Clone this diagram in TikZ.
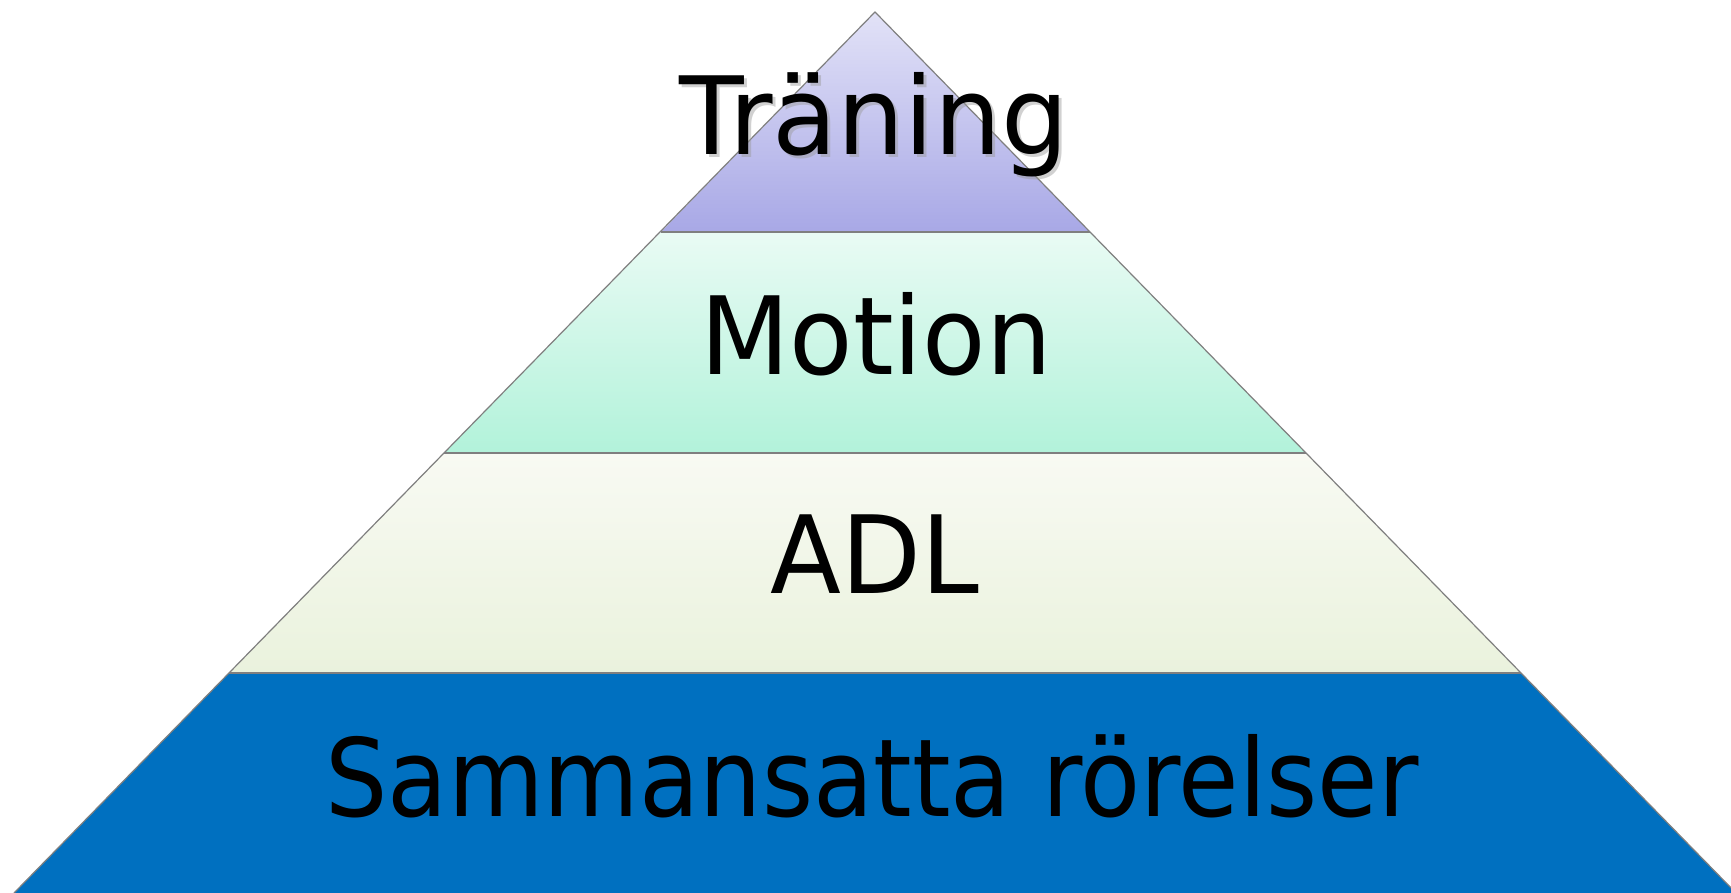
\documentclass[tikz,border=0pt]{standalone}
\usepackage{fontspec}
\newfontfamily\lgfont[FakeStretch=0.91]{DejaVu Sans}
\newfontfamily\lgwide[FakeStretch=0.96]{DejaVu Sans}
\newfontfamily\lgwider[FakeStretch=0.98]{DejaVu Sans}
\definecolor{topA}{HTML}{E2E2F7}
\definecolor{topB}{HTML}{A8A8E6}
\definecolor{motA}{HTML}{E9FBF4}
\definecolor{motB}{HTML}{B2F2DA}
\definecolor{adlA}{HTML}{F8FAF3}
\definecolor{adlB}{HTML}{EAF2DD}
\definecolor{baseC}{HTML}{0070C0}
\definecolor{edgeC}{HTML}{7F7F7F}
\begin{document}
\begin{tikzpicture}[x=1pt,y=1pt,
  label/.style={font=\lgfont\fontsize{108}{120}\selectfont, text=black, anchor=base, inner sep=0pt},
  edge/.style={draw=edgeC, line width=1.2pt, line join=round}]
\useasboundingbox (0,0) rectangle (1731,893);
\clip (0,0) rectangle (1731,893);
% corner coordinates
\coordinate (apex) at (875,881);
\coordinate (l1) at (661,661); \coordinate (r1) at (1090,661);
\coordinate (l2) at (444,440); \coordinate (r2) at (1306,440);
\coordinate (l3) at (229,220); \coordinate (r3) at (1521,220);
\coordinate (l4) at (14,0);    \coordinate (r4) at (1736,0);
% bands
\shade[top color=topA, bottom color=topB] (apex) -- (r1) -- (l1) -- cycle;
\shade[top color=motA, bottom color=motB] (l1) -- (r1) -- (r2) -- (l2) -- cycle;
\shade[top color=adlA, bottom color=adlB] (l2) -- (r2) -- (r3) -- (l3) -- cycle;
\fill[baseC] (l3) -- (r3) -- (r4) -- (l4) -- cycle;
% outlines
\draw[edge] (l1) -- (r1);
\draw[edge] (l2) -- (r2);
\draw[edge] (l3) -- (r3);
\draw[edge] (l4) -- (apex) -- (r4);
% texts
\node[label, font=\lgwider\fontsize{108}{120}\selectfont, text=black!40, opacity=0.45] (tshadow) at (877,735) {Träning};
\node[label, font=\lgwider\fontsize{108}{120}\selectfont] (traning) at (874,738) {Träning};
\node[label, font=\lgwide\fontsize{108}{120}\selectfont] (motion) at (876,518) {Motion};
\node[label, font=\lgwide\fontsize{108}{120}\selectfont] (adl) at (875,299) {ADL};
\node[label] (samm) at (872,76) {Sammansatta rörelser};
\end{tikzpicture}
\end{document}
